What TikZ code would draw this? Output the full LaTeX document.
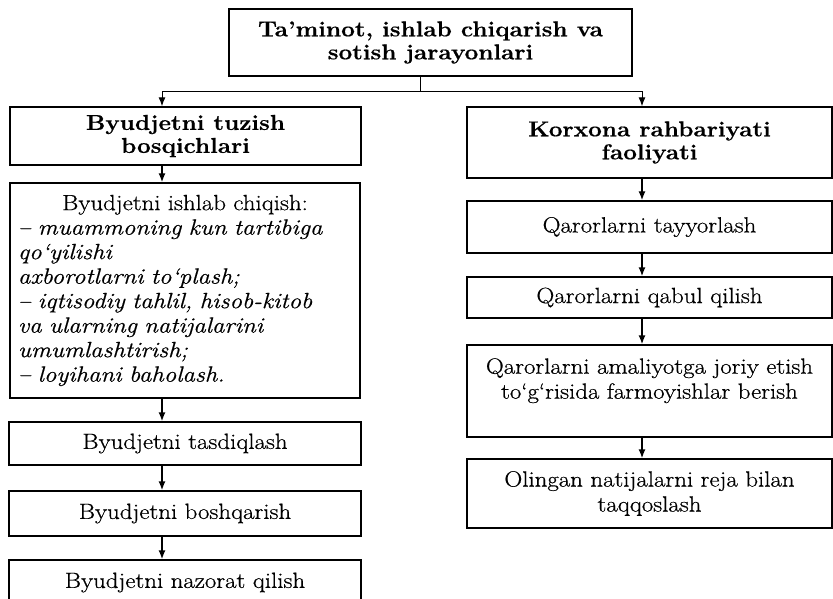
\documentclass[tikz,border=0pt]{standalone}
\usepackage{fontspec}
\setmainfont{Latin Modern Roman}[FakeStretch=1.13, FakeBold=0.6]
\usetikzlibrary{arrows.meta}
\usetikzlibrary{calc}

\begin{document}
\begin{tikzpicture}[
	x=1pt, y=-1pt,
  > = {Latex[length=9pt,width=7pt]},
  box/.style = {draw, line width=1.4pt, align=center, inner sep=4pt,
    font=\fontsize{22}{25}\selectfont},
  head/.style = {box, font=\fontsize{21.5}{23}\selectfont\bfseries},
  link/.style = {->, line width=1.4pt}
  ]
	\useasboundingbox (0,0) rectangle (833,599);

	\coordinate (@s) at (420,92);
	\coordinate (@L) at (162,0);
	\coordinate (@R) at (642,0);

	\node[head, minimum width=403pt, minimum height=67pt] (top) at (430.5,42.5)
		{Ta’minot, ishlab chiqarish va\\ sotish jarayonlari};

	\node[head, minimum width=351pt, minimum height=58pt] (bud) at (185.5,136)
		{Byudjetni tuzish\\ bosqichlari};
	\node[head, minimum width=365pt, minimum height=71pt] (kor) at (649.5,142.5)
		{Korxona rahbariyati\\ faoliyati};

	% left column
	\node[box, align=left, text width=334pt, minimum height=215pt, inner sep=8pt,
		font=\fontsize{22}{24.5}\selectfont\itshape] (ish) at (185,290.5)
		{\makebox[\hsize][c]{\upshape Byudjetni ishlab chiqish:}\\
		– muammoning kun tartibiga\\
		qo‘yilishi\\
		axborotlarni to‘plash;\\
		– iqtisodiy tahlil, hisob-kitob\\
		va ularning natijalarini\\
		umumlashtirish;\\
		– loyihani baholash.};
	\node[box, minimum width=352pt, minimum height=43pt] (tas) at (185,443.5)
		{Byudjetni tasdiqlash};
	\node[box, minimum width=352pt, minimum height=45pt] (bos) at (185,513.5)
		{Byudjetni boshqarish};
	\node[box, minimum width=352pt, minimum height=45pt] (naz) at (185,582.5)
		{Byudjetni nazorat qilish};

	% right column
	\node[box, minimum width=365pt, minimum height=52pt] (tay) at (649.5,227)
		{Qarorlarni tayyorlash};
	\node[box, minimum width=365pt, minimum height=41pt] (qab) at (649.5,297.5)
		{Qarorlarni qabul qilish};
	\node[box, minimum width=365pt, minimum height=92pt] (ama) at (649.5,391)
		{Qarorlarni amaliyotga joriy etish\\ to‘g‘risida farmoyishlar berish\\ \mbox{}};
	\node[box, minimum width=365pt, minimum height=69pt] (oli) at (649.5,493.5)
		{Olingan natijalarni reja bilan\\ taqqoslash};

	\draw[line width=1pt] (top.south -| @s) -- (@s);
	\draw[link, line width=1pt] (@s) -| (@L |- bud.north);
	\draw[link, line width=1pt] (@s) -| (@R |- kor.north);

	\draw[link] (bud.south -| @L) -- (ish.north -| @L);
	\draw[link] (ish.south -| @L) -- (tas.north -| @L);
	\draw[link] (tas.south -| @L) -- (bos.north -| @L);
	\draw[link] (bos.south -| @L) -- (naz.north -| @L);

	\draw[link] (kor.south -| @R) -- (tay.north -| @R);
	\draw[link] (tay.south -| @R) -- (qab.north -| @R);
	\draw[link] (qab.south -| @R) -- (ama.north -| @R);
	\draw[link] (ama.south -| @R) -- (oli.north -| @R);

\end{tikzpicture}
\end{document}
